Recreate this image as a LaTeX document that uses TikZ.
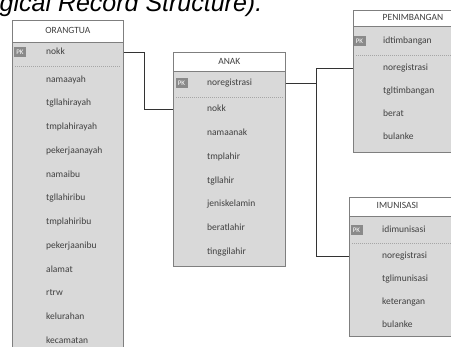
\documentclass[tikz,border=0pt]{standalone}
\usepackage{fontspec}
\setmainfont{Carlito}
\newfontfamily\titlefont{Liberation Sans}
\definecolor{bodygray}{HTML}{D9D9D9}
\definecolor{bordergray}{HTML}{7F7F7F}
\definecolor{txtgray}{HTML}{404040}
\definecolor{pkgray}{HTML}{8A8A8A}
\definecolor{sepgray}{HTML}{A6A6A6}
\definecolor{linkgray}{HTML}{333333}
\tikzset{
  tbody/.style={draw=bordergray, fill=bodygray, line width=0.7pt, anchor=north west, inner sep=0pt},
  thead/.style={draw=bordergray, fill=white, line width=0.7pt, anchor=north west, inner sep=0pt},
  fieldtxt/.style={anchor=west, inner sep=0pt, font=\fontsize{9.5}{10}\selectfont, text=txtgray, text height=6.5pt, text depth=2pt},
  headtxt/.style={anchor=center, inner sep=0pt, font=\fontsize{9.5}{10}\selectfont, text=txtgray, text height=6.5pt, text depth=2pt},
  pkbadge/.style={fill=pkgray, text=white, font=\fontsize{7}{7}\selectfont, inner sep=0pt, minimum width=12pt, minimum height=10pt},
  sepline/.style={draw=sepgray, line width=0.6pt, dash pattern=on 1pt off 1pt},
  link/.style={draw=linkgray, line width=0.7pt}
}
\begin{document}
\begin{tikzpicture}[x=1pt,y=-1pt]
\useasboundingbox (0,0) rectangle (451,347);
\clip (0,0) rectangle (451,347);
\fill[white] (0,0) rectangle (451,347);

% title (cut off at top, as in the reference)
\node[anchor=base west, inner sep=0pt, font=\titlefont\itshape\fontsize{25}{30}\selectfont, text=black] (title) at (-0.5,12) {gical Record Structure).};

% ORANGTUA
\node[tbody, minimum width=111pt, minimum height=340pt] (orangtua) at (12,20) {};
\node[thead, minimum width=111pt, minimum height=22pt] (orangtuah) at (12,20) {};
\node[headtxt] (orangtuat) at (orangtuah.center) {ORANGTUA};
\node[pkbadge] (opk) at (20,52) {PK};
\node[fieldtxt] (o-nokk) at (46,52) {nokk};
\draw[sepline] (15,66) -- (121,66);
\node[fieldtxt] (o1) at (46,80) {namaayah};
\node[fieldtxt] (o2) at (46,103.7) {tgllahirayah};
\node[fieldtxt] (o3) at (46,127.5) {tmplahirayah};
\node[fieldtxt] (o4) at (46,151.2) {pekerjaanayah};
\node[fieldtxt] (o5) at (46,174.9) {namaibu};
\node[fieldtxt] (o6) at (46,198.6) {tgllahiribu};
\node[fieldtxt] (o7) at (46,222.4) {tmplahiribu};
\node[fieldtxt] (o8) at (46,246.1) {pekerjaanibu};
\node[fieldtxt] (o9) at (46,269.8) {alamat};
\node[fieldtxt] (o10) at (46,293.5) {rtrw};
\node[fieldtxt] (o11) at (46,317.3) {kelurahan};
\node[fieldtxt] (o12) at (46,341) {kecamatan};

% ANAK
\node[tbody, minimum width=112pt, minimum height=214pt] (anak) at (173,52) {};
\node[thead, minimum width=112pt, minimum height=19pt] (anakh) at (173,52) {};
\node[headtxt] (anakt) at (anakh.center) {ANAK};
\node[pkbadge] (apk) at (181.5,83) {PK};
\node[fieldtxt] (a-noreg) at (207,83) {noregistrasi};
\draw[sepline] (176,97) -- (283,97);
\node[fieldtxt] (a-nokk) at (207,109.5) {nokk};
\node[fieldtxt] (a2) at (207,133.3) {namaanak};
\node[fieldtxt] (a3) at (207,157) {tmplahir};
\node[fieldtxt] (a4) at (207,180.8) {tgllahir};
\node[fieldtxt] (a5) at (207,204.5) {jeniskelamin};
\node[fieldtxt] (a6) at (207,228.3) {beratlahir};
\node[fieldtxt] (a7) at (207,252) {tinggilahir};

% PENIMBANGAN
\node[tbody, minimum width=120pt, minimum height=142pt] (penimb) at (353,10) {};
\node[thead, minimum width=120pt, minimum height=16pt] (penimbh) at (353,10) {};
\node[headtxt] (penimbt) at (413,18.5) {PENIMBANGAN};
\node[pkbadge] (ppk) at (359.5,41) {PK};
\node[fieldtxt] (p1) at (383,41) {idtimbangan};
\draw[sepline] (356,55) -- (460,55);
\node[fieldtxt] (p-noreg) at (383,68) {noregistrasi};
\node[fieldtxt] (p3) at (383,91) {tgltimbangan};
\node[fieldtxt] (p4) at (383,114) {berat};
\node[fieldtxt] (p5) at (383,137) {bulanke};

% IMUNISASI
\node[tbody, minimum width=120pt, minimum height=139pt] (imun) at (349,197) {};
\node[thead, minimum width=120pt, minimum height=19pt] (imunh) at (349,197) {};
\node[headtxt] (imunt) at (397.5,206.5) {IMUNISASI};
\node[pkbadge] (ipk) at (356.5,230) {PK};
\node[fieldtxt] (i1) at (382,230) {idimunisasi};
\draw[sepline] (352,243) -- (460,243);
\node[fieldtxt] (i-noreg) at (382,256) {noregistrasi};
\node[fieldtxt] (i3) at (382,279) {tglimunisasi};
\node[fieldtxt] (i4) at (382,302) {keterangan};
\node[fieldtxt] (i5) at (382,325) {bulanke};

% connectors
\coordinate (bendA) at (144,0);
\coordinate (bendB) at (316,0);
\draw[link] (orangtua.east |- o-nokk) -| (bendA |- a-nokk) -- (anak.west |- a-nokk);
\draw[link] (anak.east |- a-noreg) -| (bendB |- p-noreg) -- (penimb.west |- p-noreg);
\draw[link] (bendB |- a-noreg) |- (imun.west |- i-noreg);
\end{tikzpicture}
\end{document}
